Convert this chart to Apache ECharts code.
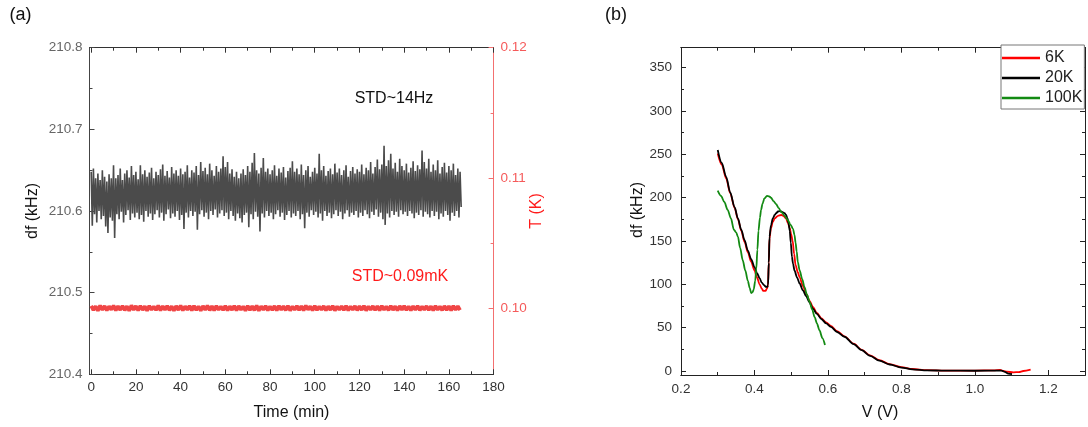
<!DOCTYPE html>
<html>
<head>
<meta charset="utf-8">
<script src="https://cdn.jsdelivr.net/npm/echarts@6/dist/echarts.min.js"></script>
<style>html,body{margin:0;padding:0;background:#fff;}#c{width:1088px;height:427px;}</style>
</head>
<body>
<div id="c"></div>
<script>
// ---------- Panel (a): df noise (kHz), peaks at t (min), troughs at t+0.5 ----------
const dfPeaks = [
210.648,210.652,210.640,210.646,210.638,210.650,210.642,210.636,210.645,210.640,
210.656,210.640,210.644,210.652,210.638,210.646,210.650,210.641,210.655,210.644,
210.648,210.639,210.656,210.645,210.650,210.642,210.647,210.653,210.640,210.648,
210.644,210.651,210.657,210.643,210.649,210.641,210.654,210.646,210.650,210.643,
210.652,210.645,210.648,210.656,210.641,210.650,210.647,210.655,210.644,210.660,
210.649,210.653,210.645,210.658,210.650,210.643,210.655,210.648,210.652,210.667,
210.654,210.660,210.646,210.651,210.642,210.648,210.640,210.646,210.651,210.644,
210.655,210.648,210.659,210.671,210.650,210.646,210.653,210.665,210.648,210.652,
210.645,210.650,210.656,210.643,210.652,210.647,210.654,210.641,210.649,210.653,
210.661,210.648,210.652,210.645,210.657,210.644,210.650,210.655,210.642,210.648,
210.653,210.646,210.670,210.650,210.655,210.643,210.649,210.652,210.645,210.658,
210.647,210.652,210.644,210.650,210.656,210.642,210.649,210.654,210.646,210.651,
210.648,210.657,210.645,210.653,210.650,210.660,210.646,210.654,210.663,210.651,
210.657,210.680,210.655,210.662,210.670,210.652,210.659,210.648,210.664,210.655,
210.650,210.658,210.647,210.653,210.661,210.649,210.656,210.651,210.674,210.660,
210.652,210.664,210.648,210.657,210.650,210.662,210.646,210.654,210.659,210.647,
210.655,210.650,210.658,210.644,210.652,210.648];
const dfTroughs = [
210.582,210.596,210.586,210.600,210.590,210.594,210.581,210.573,210.592,210.588,
210.567,210.596,210.590,210.599,210.586,210.595,210.601,210.589,210.597,210.592,
210.598,210.590,210.595,210.587,210.600,210.593,210.597,210.589,210.596,210.601,
210.592,210.598,210.588,210.596,210.602,210.591,210.597,210.593,210.600,210.589,
210.595,210.578,210.598,210.592,210.600,210.594,210.599,210.577,210.596,210.601,
210.593,210.598,210.590,210.600,210.595,210.602,210.592,210.597,210.601,210.594,
210.598,210.590,210.600,210.594,210.588,210.597,210.591,210.586,210.595,210.598,
210.580,210.596,210.590,210.599,210.593,210.575,210.597,210.592,210.600,210.594,
210.598,210.590,210.596,210.601,210.593,210.598,210.589,210.595,210.600,210.592,
210.597,210.594,210.600,210.590,210.596,210.579,210.598,210.593,210.601,210.595,
210.599,210.592,210.597,210.588,210.600,210.594,210.598,210.591,210.596,210.601,
210.594,210.599,210.590,210.597,210.601,210.593,210.598,210.595,210.600,210.592,
210.598,210.594,210.601,210.596,210.591,210.599,210.595,210.602,210.593,210.598,
210.590,210.583,210.597,210.592,210.600,210.595,210.599,210.593,210.601,210.596,
210.599,210.594,210.600,210.597,210.591,210.598,210.595,210.601,210.593,210.599,
210.596,210.592,210.600,210.594,210.599,210.590,210.597,210.593,210.600,210.595,
210.588,210.598,210.594,210.600,210.592,210.605];
// Temperature (K), highs at t=2i, lows at t=2i+1
const tempHighs = [
0.10016,0.10013,0.10019,0.10015,0.10012,0.10018,0.10014,0.10016,0.10013,0.10020,
0.10015,0.10017,0.10013,0.10016,0.10012,0.10018,0.10014,0.10017,0.10013,0.10015,
0.10019,0.10013,0.10016,0.10017,0.10012,0.10015,0.10018,0.10014,0.10016,0.10012,
0.10016,0.10013,0.10017,0.10015,0.10012,0.10016,0.10014,0.10019,0.10013,0.10016,
0.10012,0.10015,0.10017,0.10013,0.10016,0.10012,0.10016,0.10014,0.10018,0.10013,
0.10016,0.10012,0.10015,0.10013,0.10016,0.10012,0.10014,0.10016,0.10012,0.10015,
0.10013,0.10016,0.10012,0.10015,0.10014,0.10017,0.10012,0.10016,0.10013,0.10015,
0.10016,0.10012,0.10014,0.10016,0.10012,0.10015,0.10013,0.10016,0.10012,0.10015,
0.10014,0.10016,0.10013];
const tempLows = [
0.09983,0.09979,0.09985,0.09981,0.09987,0.09980,0.09984,0.09982,0.09978,0.09985,
0.09981,0.09984,0.09979,0.09986,0.09983,0.09980,0.09985,0.09982,0.09979,0.09984,
0.09981,0.09986,0.09980,0.09983,0.09979,0.09985,0.09982,0.09980,0.09985,0.09983,
0.09980,0.09984,0.09981,0.09986,0.09979,0.09983,0.09982,0.09978,0.09985,0.09981,
0.09984,0.09980,0.09985,0.09982,0.09980,0.09985,0.09983,0.09981,0.09986,0.09980,
0.09983,0.09985,0.09981,0.09984,0.09980,0.09985,0.09983,0.09981,0.09986,0.09982,
0.09984,0.09980,0.09985,0.09983,0.09981,0.09985,0.09982,0.09984,0.09980,0.09985,
0.09983,0.09981,0.09985,0.09982,0.09986,0.09983,0.09980,0.09985,0.09982,0.09984,
0.09981,0.09985,0.09983];
const timeTicks = [0,20,40,60,80,100,120,140,160,180];
const timeMinor = [10,30,50,70,90,110,130,150,170];
const dfTicks = [210.4,210.5,210.6,210.7,210.8];
const dfMinor = [210.45,210.55,210.65,210.75];
const tTicks = [0.10,0.11,0.12];
const tMinor = [0.105,0.115];

// ---------- Panel (b): df (kHz) vs V (V) ----------
const curve6K = [[0.300,251],[0.311,238],[0.323,222],[0.334,205],[0.346,188],[0.355,175],[0.364,162],[0.373,149],[0.382,137],[0.391,126],[0.400,116],[0.407,108],[0.414,100],[0.420,95],[0.424,92.5],[0.430,92.5],[0.434,95],[0.437,100],[0.439,125],[0.441,153],[0.445,165],[0.450,172],[0.455,176],[0.464,179],[0.473,180],[0.480,178.5],[0.486,176],[0.491,171],[0.496,165],[0.500,158],[0.504,150],[0.508,135],[0.512,122],[0.518,114],[0.523,108],[0.532,98],[0.541,89],[0.550,81],[0.559,74],[0.570,67],[0.582,61],[0.595,56],[0.608,52],[0.625,46],[0.645,40],[0.670,31.5],[0.692,24.5],[0.715,18],[0.740,12.5],[0.768,8],[0.800,4.5],[0.830,2.3],[0.870,1],[0.920,0.5],[1.000,0.5],[1.050,0.8],[1.069,1.2],[1.078,0],[1.087,-0.8],[1.105,-1.5],[1.120,-1.2],[1.132,0],[1.152,1.5]];
const curve20K = [[0.300,255],[0.311,240],[0.323,224],[0.334,206],[0.346,189],[0.355,176],[0.364,163],[0.373,151],[0.382,139],[0.391,129],[0.400,120],[0.407,113],[0.414,107],[0.420,102],[0.426,99],[0.432,97],[0.435,97],[0.437,99],[0.439,125],[0.441,155],[0.445,168],[0.450,176],[0.455,180],[0.459,182],[0.464,184],[0.468,184.5],[0.473,184],[0.478,183],[0.482,182],[0.486,180],[0.490,176],[0.493,170],[0.496,162],[0.499,148],[0.502,132],[0.505,124],[0.509,116],[0.516,108],[0.523,101],[0.532,93],[0.541,86],[0.550,79],[0.559,72],[0.570,66],[0.582,60],[0.595,55],[0.608,51],[0.625,45],[0.645,39.5],[0.670,31],[0.692,24],[0.715,17.5],[0.740,12],[0.768,7.5],[0.800,4],[0.830,2],[0.870,0.8],[0.920,0.4],[1.000,0.3],[1.073,0.4],[1.082,-1],[1.091,-3],[1.100,-3.5]];
const curve100K = [[0.300,208],[0.309,202],[0.318,195],[0.327,186],[0.336,176],[0.344,163],[0.350,160],[0.355,155],[0.361,142],[0.368,128],[0.375,116],[0.382,104],[0.387,96],[0.391,90],[0.395,91],[0.398,94],[0.402,104],[0.405,118],[0.408,140],[0.411,162],[0.415,177],[0.418,186],[0.422,193],[0.427,199],[0.434,202],[0.440,201.5],[0.445,200],[0.452,196],[0.459,192.5],[0.466,188],[0.473,183.5],[0.482,179],[0.491,174],[0.498,169],[0.505,164],[0.509,157],[0.512,148],[0.515,138],[0.518,126],[0.523,116],[0.530,106],[0.536,97],[0.543,88],[0.550,80],[0.557,71],[0.564,62],[0.570,55],[0.577,47],[0.585,38],[0.592,30]];
const vTicks = [0.2,0.4,0.6,0.8,1.0,1.2];
const vMinor = [0.3,0.5,0.7,0.9,1.1];
const dfbTicks = [0,50,100,150,200,250,300,350];
const dfbMinor = [25,75,125,175,225,275,325];
const seriesNames = ['6K','20K','100K'];

// ---------- build ----------
const FONT = 'Liberation Sans';
const dfLine = [];
for (let i = 0; i < dfPeaks.length; i++) { dfLine.push([i, dfPeaks[i]]); dfLine.push([i + 0.5, dfTroughs[i]]); }
const tLine = [];
for (let i = 0; i < tempHighs.length; i++) { tLine.push([2 * i, tempHighs[i]]); tLine.push([2 * i + 1, tempLows[i]]); }

function axis(grid, pos, min, max, ticks, len, color, label) {
  const a = {
    type: 'value', gridIndex: grid, position: pos, min: min, max: max,
    axisLine: { show: true, onZero: false, lineStyle: { color: color, width: 1 } },
    axisTick: { show: true, inside: true, length: len, customValues: ticks, lineStyle: { color: color, width: 1 } },
    axisLabel: { show: false },
    splitLine: { show: false }
  };
  if (label) {
    a.axisLabel = Object.assign({ show: true, fontFamily: FONT, fontSize: 13.5 }, label);
  }
  return a;
}
const gA = { left: 89.5, top: 47.7, width: 404.1, height: 326.6 };
const gB = { left: 681, top: 47.7, width: 404, height: 327.3 };
const xMinA = -0.75, xMaxA = 180, yMinA = 210.4, yMaxA = 210.8, tMinA = 0.0949, tMaxA = 0.12;
const xMinB = 0.2, xMaxB = 1.3, yMinB = -4.6, yMaxB = 373;

const option = {
  animation: false,
  backgroundColor: '#fff',
  grid: [gA, gA, gB, gB],
  xAxis: [
    axis(0, 'bottom', xMinA, xMaxA, timeTicks, 5, '#333', { customValues: timeTicks, color: '#333', margin: 6 }),
    axis(0, 'top', xMinA, xMaxA, timeTicks, 5, '#333'),
    axis(1, 'bottom', xMinA, xMaxA, timeMinor, 3, '#333'),
    axis(1, 'top', xMinA, xMaxA, timeMinor, 3, '#333'),
    axis(2, 'bottom', xMinB, xMaxB, vTicks, 5, '#222', { customValues: vTicks, color: '#333', margin: 7, formatter: v => v.toFixed(1) }),
    axis(2, 'top', xMinB, xMaxB, vTicks, 5, '#222'),
    axis(3, 'bottom', xMinB, xMaxB, vMinor, 3, '#222'),
    axis(3, 'top', xMinB, xMaxB, vMinor, 3, '#222')
  ],
  yAxis: [
    axis(0, 'left', yMinA, yMaxA, dfTicks, 5, '#444', { customValues: dfTicks, color: '#666', margin: 7, formatter: v => v.toFixed(1) }),
    axis(0, 'right', tMinA, tMaxA, tTicks, 5, '#f37070', { customValues: tTicks, color: '#f55a5a', margin: 7, formatter: v => v.toFixed(2) }),
    axis(1, 'left', yMinA, yMaxA, dfMinor, 3, '#444'),
    axis(1, 'right', tMinA, tMaxA, tMinor, 3, '#f37070'),
    axis(2, 'left', yMinB, yMaxB, dfbTicks, 5, '#222', { customValues: dfbTicks, color: '#333', margin: 9 }),
    axis(2, 'right', yMinB, yMaxB, dfbTicks, 5, '#222'),
    axis(3, 'left', yMinB, yMaxB, dfbMinor, 3, '#222'),
    axis(3, 'right', yMinB, yMaxB, dfbMinor, 3, '#222')
  ],
  legend: {
    data: seriesNames, orient: 'vertical', left: 1001, top: 45,
    backgroundColor: '#fff', borderColor: '#777', borderWidth: 1,
    padding: [5, 2, 3, 1], itemGap: 4, itemWidth: 38, itemHeight: 2.5, icon: 'rect',
    textStyle: { fontFamily: FONT, fontSize: 16, color: '#222' }
  },
  series: [
    { type: 'line', name: 'df', xAxisIndex: 0, yAxisIndex: 0, data: dfLine, showSymbol: false, symbol: 'none',
      lineStyle: { color: '#4b4b4b', width: 1.6 }, z: 3 },
    { type: 'line', name: 'T', xAxisIndex: 0, yAxisIndex: 1, data: tLine, showSymbol: false, symbol: 'none',
      lineStyle: { color: '#f04646', width: 3.6, join: 'bevel' }, z: 3 },
    { type: 'line', name: seriesNames[0], xAxisIndex: 4, yAxisIndex: 4, data: curve6K, showSymbol: false, symbol: 'none',
      smooth: 0.3, smoothMonotone: 'x', lineStyle: { color: '#ff0000', width: 1.8 }, itemStyle: { color: '#ff0000' }, z: 3 },
    { type: 'line', name: seriesNames[1], xAxisIndex: 4, yAxisIndex: 4, data: curve20K, showSymbol: false, symbol: 'none',
      smooth: 0.3, smoothMonotone: 'x', lineStyle: { color: '#000000', width: 1.8 }, itemStyle: { color: '#000000' }, z: 4 },
    { type: 'line', name: seriesNames[2], xAxisIndex: 4, yAxisIndex: 4, data: curve100K, showSymbol: false, symbol: 'none',
      smooth: 0.3, smoothMonotone: 'x', lineStyle: { color: '#138a13', width: 1.8 }, itemStyle: { color: '#138a13' }, z: 5 }
  ],
  graphic: [
    { type: 'text', x: 20.5, y: 15, style: { text: '(a)', fontFamily: FONT, fontSize: 18, fill: '#111', align: 'center', verticalAlign: 'middle' } },
    { type: 'text', x: 616, y: 15, style: { text: '(b)', fontFamily: FONT, fontSize: 18, fill: '#111', align: 'center', verticalAlign: 'middle' } },
    { type: 'text', x: 32.5, y: 211, rotation: Math.PI / 2, style: { text: 'df (kHz)', fontFamily: FONT, fontSize: 16, fill: '#111', align: 'center', verticalAlign: 'middle' } },
    { type: 'text', x: 537, y: 211, rotation: Math.PI / 2, style: { text: 'T (K)', fontFamily: FONT, fontSize: 16, fill: '#ff1a1a', align: 'center', verticalAlign: 'middle' } },
    { type: 'text', x: 291.5, y: 413, style: { text: 'Time (min)', fontFamily: FONT, fontSize: 16, fill: '#111', align: 'center', verticalAlign: 'middle' } },
    { type: 'text', x: 394, y: 99, style: { text: 'STD~14Hz', fontFamily: FONT, fontSize: 16, fill: '#111', align: 'center', verticalAlign: 'middle' } },
    { type: 'text', x: 400, y: 277, style: { text: 'STD~0.09mK', fontFamily: FONT, fontSize: 16, fill: '#ff1a1a', align: 'center', verticalAlign: 'middle' } },
    { type: 'text', x: 637.5, y: 210, rotation: Math.PI / 2, style: { text: 'df (kHz)', fontFamily: FONT, fontSize: 16, fill: '#111', align: 'center', verticalAlign: 'middle' } },
    { type: 'text', x: 880, y: 413, style: { text: 'V (V)', fontFamily: FONT, fontSize: 16, fill: '#111', align: 'center', verticalAlign: 'middle' } }
  ]
};
const chart = echarts.init(document.getElementById('c'), null, { renderer: 'canvas' });
chart.setOption(option);
</script>
</body>
</html>
